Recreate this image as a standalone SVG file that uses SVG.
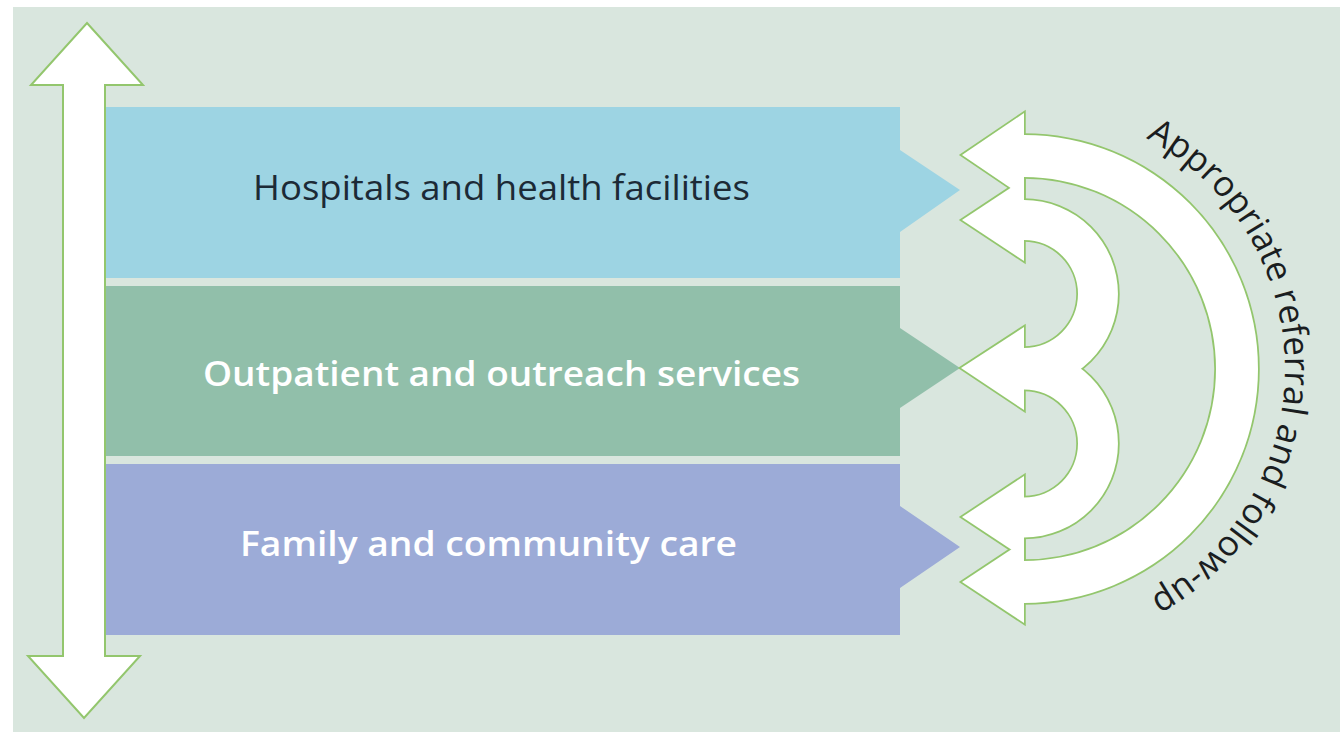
<svg xmlns="http://www.w3.org/2000/svg" xmlns:xlink="http://www.w3.org/1999/xlink" width="1343" height="732" viewBox="0 0 1343 732">
  <style>
    .band-text { font-family: "Open Sans", "Noto Sans", "Liberation Sans", sans-serif; font-size: 35px; }
    .dark { fill: #1c2a36; font-weight: 400; }
    .light { fill: #ffffff; font-weight: 600; }
    .outline use { fill: #93c66d; stroke: #93c66d; stroke-width: 3.5; stroke-linejoin: miter; }
    .fill use { fill: #ffffff; stroke: none; }
    .arc-text { font-family: "Open Sans", "Noto Sans", "Liberation Sans", sans-serif; font-size: 35px; fill: #1a1d1f; }
  </style>
  <defs>
    <path id="outerArc" d="M1024,135 A234,234 0 0 1 1024,603 L1024,561 A192,192 0 0 0 1024,177 Z"/>
    <path id="upperBump" d="M1024,200 A94,94 0 0 1 1024,388 L1024,348 A54,54 0 0 0 1024,240 Z"/>
    <path id="lowerBump" d="M1024,349.5 A94,94 0 0 1 1024,537.5 L1024,497.5 A54,54 0 0 0 1024,389.5 Z"/>
    <polygon id="headA" points="962,155 1024,113 1024,197"/>
    <polygon id="headB" points="962,220 1024,179 1024,261"/>
    <polygon id="headM" points="961,368 1024,327 1024,410"/>
    <polygon id="headC" points="962,517 1024,476 1024,558"/>
    <polygon id="headD" points="962,582 1024,541 1024,623"/>
    <path id="textArc" d="M1024,108 A261,261 0 0 1 1024,630"/>
  </defs>

  <rect x="0" y="0" width="1343" height="732" fill="#ffffff"/>
  <rect x="13" y="7" width="1327" height="725" fill="#d9e6de"/>

  <g id="hospitals">
    <polygon points="100,107 900,107 900,150 960,190 900,232 900,278 100,278" fill="#9dd4e3"/>
    <text class="band-text dark" x="253" y="200" textLength="497" lengthAdjust="spacingAndGlyphs">Hospitals and health facilities</text>
  </g>

  <g id="outpatient">
    <polygon points="100,286 900,286 900,328 960,368 900,408 900,456 100,456" fill="#91bfaa"/>
    <text class="band-text light" x="203" y="386" textLength="597" lengthAdjust="spacingAndGlyphs">Outpatient and outreach services</text>
  </g>

  <g id="family">
    <polygon points="100,464 900,464 900,506 960,547 900,588 900,635 100,635" fill="#9cabd7"/>
    <text class="band-text light" x="240" y="556" textLength="497" lengthAdjust="spacingAndGlyphs">Family and community care</text>
  </g>

  <g id="level-arrow">
    <polygon points="87,23 143,85 105,85 105,656 140,656 84,718 28,656 63,656 63,85 31,85" fill="#ffffff" stroke="#93c66d" stroke-width="2" stroke-linejoin="miter"/>
  </g>

  <g id="connectors">
    <g class="outline">
      <use xlink:href="#outerArc"/>
      <use xlink:href="#upperBump"/>
      <use xlink:href="#lowerBump"/>
      <use xlink:href="#headA"/>
      <use xlink:href="#headB"/>
      <use xlink:href="#headM"/>
      <use xlink:href="#headC"/>
      <use xlink:href="#headD"/>
    </g>
    <g class="fill">
      <use xlink:href="#outerArc"/>
      <use xlink:href="#upperBump"/>
      <use xlink:href="#lowerBump"/>
      <use xlink:href="#headA"/>
      <use xlink:href="#headB"/>
      <use xlink:href="#headM"/>
      <use xlink:href="#headC"/>
      <use xlink:href="#headD"/>
    </g>
  </g>

  <g id="referral-label">
    <text class="arc-text"><textPath xlink:href="#textArc" startOffset="49.7%" text-anchor="middle">Appropriate referral and follow-up</textPath></text>
  </g>
</svg>
